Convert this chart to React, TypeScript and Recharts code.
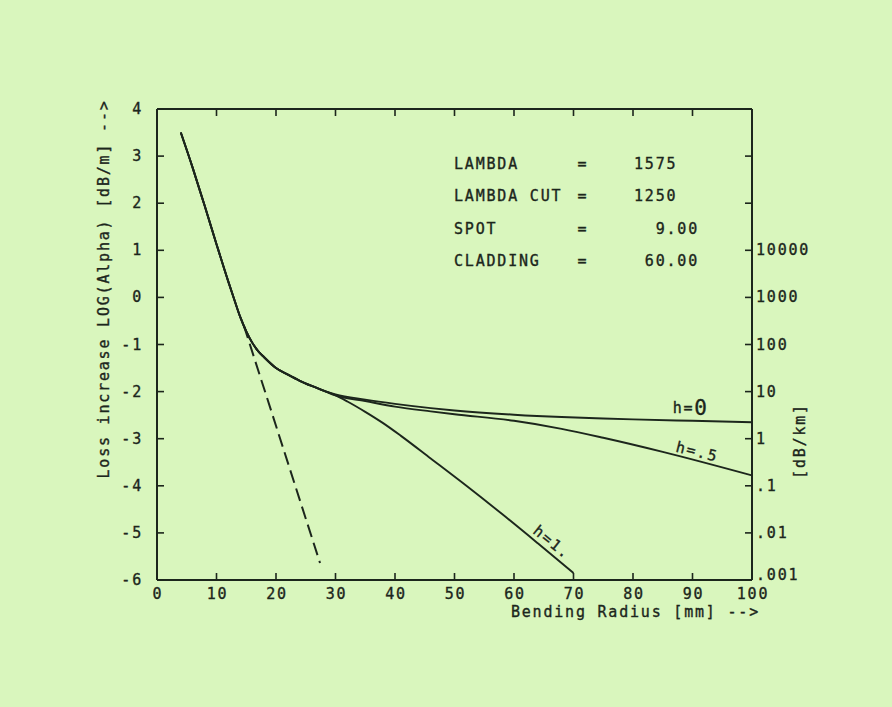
import React from 'react';
import { LineChart, Line, XAxis, YAxis, ReferenceDot } from 'recharts';

// ---- data ----
const commonX = [4, 6, 8, 10, 12, 13, 14, 15, 16, 17, 18, 20, 22, 24, 26, 28];
const commonY = [3.5, 2.75, 1.95, 1.13, 0.33, -0.05, -0.42, -0.72, -0.96, -1.14, -1.27, -1.5, -1.64, -1.77, -1.88, -1.98];

const h0X = [30, 35, 40, 46, 50, 60, 68, 75, 80, 90, 100];
const h0Y = [-2.06, -2.17, -2.26, -2.35, -2.4, -2.49, -2.54, -2.57, -2.59, -2.62, -2.65];

const h05X = [30, 35, 40, 46, 50, 60, 68, 75, 85, 100];
const h05Y = [-2.08, -2.2, -2.32, -2.42, -2.48, -2.62, -2.79, -2.98, -3.28, -3.78];

const h1X = [30, 32, 35, 38, 41, 46, 52, 58, 64, 70];
const h1Y = [-2.08, -2.21, -2.43, -2.67, -2.94, -3.42, -4.0, -4.6, -5.22, -5.85];

const dashX = [14.6, 27.4];
const dashY = [-0.6, -5.64];

const xTicks = [0, 10, 20, 30, 40, 50, 60, 70, 80, 90, 100];
const yTicks = [4, 3, 2, 1, 0, -1, -2, -3, -4, -5, -6];
const rightTickValues = [4, 3, 2, 1, 0, -1, -2, -3, -4, -5, -6];
const rightTickLabels = ['', '', '', '10000', '1000', '100', '10', '1', '.1', '.01', '.001'];

const infoNames = ['LAMBDA', 'LAMBDA CUT', 'SPOT', 'CLADDING'];
const infoValues = ['1575', '1250', '9.00', '60.00'];

const toPoints = (xs: number[], ys: number[]) => xs.map((x, i) => ({ x, y: ys[i] }));
const commonPts = toPoints(commonX, commonY);
const h0Data = [...commonPts, ...toPoints(h0X, h0Y)];
const h05Data = [...commonPts, ...toPoints(h05X, h05Y)];
const h1Data = [...commonPts, ...toPoints(h1X, h1Y)];
const dashData = toPoints(dashX, dashY);

// ---- styles ----
const BG = '#d9f6bd';
const INK = '#1c261c';
const FONT = '"DejaVu Sans Mono", "Liberation Mono", monospace';
const FS = 15;
const LS = 1.8;

const W = 892;
const H = 707;
const margin = { top: 108, right: 139, bottom: 126, left: 156 };

const textProps = {
  fontFamily: FONT,
  fontSize: FS,
  letterSpacing: LS,
  fill: INK,
  stroke: INK,
  strokeWidth: 0.35,
};

const BottomTick = (props: any) => {
  const { x, y, payload } = props;
  return (
    <g>
      <line x1={x} x2={x} y1={y} y2={y - 7} stroke={INK} strokeWidth={1.6} />
      <text {...textProps} x={x + 1} y={y + 19} textAnchor="middle">
        {payload.value}
      </text>
    </g>
  );
};

const TopTick = (props: any) => {
  const { x, y, payload } = props;
  if (payload.value === 0 || payload.value === 100) return <g />;
  return <line x1={x} x2={x} y1={y} y2={y + 7} stroke={INK} strokeWidth={1.6} />;
};

const LeftTick = (props: any) => {
  const { x, y, payload } = props;
  return (
    <g>
      <line x1={x} x2={x + 7} y1={y} y2={y} stroke={INK} strokeWidth={1.6} />
      <text {...textProps} x={x - 14} y={y} textAnchor="end" dominantBaseline="central">
        {payload.value}
      </text>
    </g>
  );
};

const RightTick = (props: any) => {
  const { x, y, payload } = props;
  const idx = rightTickValues.indexOf(payload.value);
  const label = idx >= 0 ? rightTickLabels[idx] : '';
  const lift = payload.value === -6 ? -5 : 0;
  return (
    <g>
      <line x1={x} x2={x - 7} y1={y} y2={y} stroke={INK} strokeWidth={1.6} />
      {label ? (
        <text {...textProps} x={x + 4} y={y + lift} textAnchor="start" dominantBaseline="central">
          {label}
        </text>
      ) : null}
    </g>
  );
};

const makeLabel = (text: React.ReactNode, angle: number) => (props: any) => {
  const vb = props.viewBox || {};
  const cx = (vb.x ?? 0) + (vb.width ?? 0) / 2;
  const cy = (vb.y ?? 0) + (vb.height ?? 0) / 2;
  return (
    <text
      {...textProps}
      x={cx}
      y={cy}
      textAnchor="middle"
      dominantBaseline="central"
      transform={`rotate(${angle} ${cx} ${cy})`}
    >
      {text}
    </text>
  );
};

const H0Label = makeLabel(
  <>
    <tspan>h=</tspan>
    <tspan fontSize={21}>0</tspan>
  </>,
  0
);
const H05Label = makeLabel('h=.5', 14);
const H1Label = makeLabel('h=1.', 39);

export default function App() {
  return (
    <div style={{ position: 'fixed', left: 0, top: 0, width: W, height: H, background: BG }}>
      <LineChart width={W} height={H} margin={margin}>
        <XAxis
          xAxisId="bottom"
          type="number"
          dataKey="x"
          domain={[0, 100]}
          ticks={xTicks}
          interval={0}
          height={1}
          tickSize={0}
          tickMargin={0}
          tickLine={false}
          axisLine={{ stroke: INK, strokeWidth: 2 }}
          tick={BottomTick}
          allowDataOverflow
        />
        <XAxis
          xAxisId="top"
          orientation="top"
          type="number"
          dataKey="x"
          domain={[0, 100]}
          ticks={xTicks}
          interval={0}
          height={1}
          tickSize={0}
          tickMargin={0}
          tickLine={false}
          axisLine={{ stroke: INK, strokeWidth: 2 }}
          tick={TopTick}
          allowDataOverflow
        />
        <YAxis
          yAxisId="left"
          type="number"
          dataKey="y"
          domain={[-6, 4]}
          ticks={yTicks}
          interval={0}
          width={1}
          tickSize={0}
          tickMargin={0}
          tickLine={false}
          axisLine={{ stroke: INK, strokeWidth: 2 }}
          tick={LeftTick}
          allowDataOverflow
        />
        <YAxis
          yAxisId="right"
          orientation="right"
          type="number"
          dataKey="y"
          domain={[-6, 4]}
          ticks={rightTickValues}
          interval={0}
          width={1}
          tickSize={0}
          tickMargin={0}
          tickLine={false}
          axisLine={{ stroke: INK, strokeWidth: 2 }}
          tick={RightTick}
          allowDataOverflow
        />
        <Line
          xAxisId="bottom"
          yAxisId="left"
          data={h0Data}
          dataKey="y"
          type="monotone"
          stroke={INK}
          strokeWidth={1.9}
          dot={false}
          isAnimationActive={false}
        />
        <Line
          xAxisId="bottom"
          yAxisId="left"
          data={h05Data}
          dataKey="y"
          type="monotone"
          stroke={INK}
          strokeWidth={1.9}
          dot={false}
          isAnimationActive={false}
        />
        <Line
          xAxisId="bottom"
          yAxisId="left"
          data={h1Data}
          dataKey="y"
          type="monotone"
          stroke={INK}
          strokeWidth={1.9}
          dot={false}
          isAnimationActive={false}
        />
        <Line
          xAxisId="bottom"
          yAxisId="left"
          data={dashData}
          dataKey="y"
          type="linear"
          stroke={INK}
          strokeWidth={2}
          strokeDasharray="13 6"
          dot={false}
          isAnimationActive={false}
        />
        <ReferenceDot xAxisId="bottom" yAxisId="left" x={89.7} y={-2.35} r={1} fill="none" stroke="none" label={H0Label} />
        <ReferenceDot xAxisId="bottom" yAxisId="left" x={90.8} y={-3.28} r={1} fill="none" stroke="none" label={H05Label} />
        <ReferenceDot xAxisId="bottom" yAxisId="left" x={66.4} y={-5.2} r={1} fill="none" stroke="none" label={H1Label} />
      </LineChart>
      <svg
        width={W}
        height={H}
        style={{ position: 'absolute', left: 0, top: 0, pointerEvents: 'none' }}
      >
        {infoNames.map((n, i) => (
          <g key={n}>
            <text {...textProps} x={454} y={169 + i * 32.3}>
              {n}
            </text>
            <text {...textProps} x={583} y={169 + i * 32.3} textAnchor="middle">
              =
            </text>
            <text
              {...textProps}
              x={i < 2 ? 634 : 699}
              y={169 + i * 32.3}
              textAnchor={i < 2 ? 'start' : 'end'}
            >
              {infoValues[i]}
            </text>
          </g>
        ))}
        <text
          {...textProps}
          x={104}
          y={289}
          textAnchor="middle"
          dominantBaseline="central"
          transform="rotate(-90 104 289)"
        >
          Loss increase LOG(Alpha) [dB/m] --&gt;
        </text>
        <text {...textProps} x={760} y={617} textAnchor="end">
          Bending Radius [mm] --&gt;
        </text>
        <text
          {...textProps}
          x={800}
          y={441}
          textAnchor="middle"
          dominantBaseline="central"
          transform="rotate(-90 800 441)"
        >
          [dB/km]
        </text>
      </svg>
    </div>
  );
}
